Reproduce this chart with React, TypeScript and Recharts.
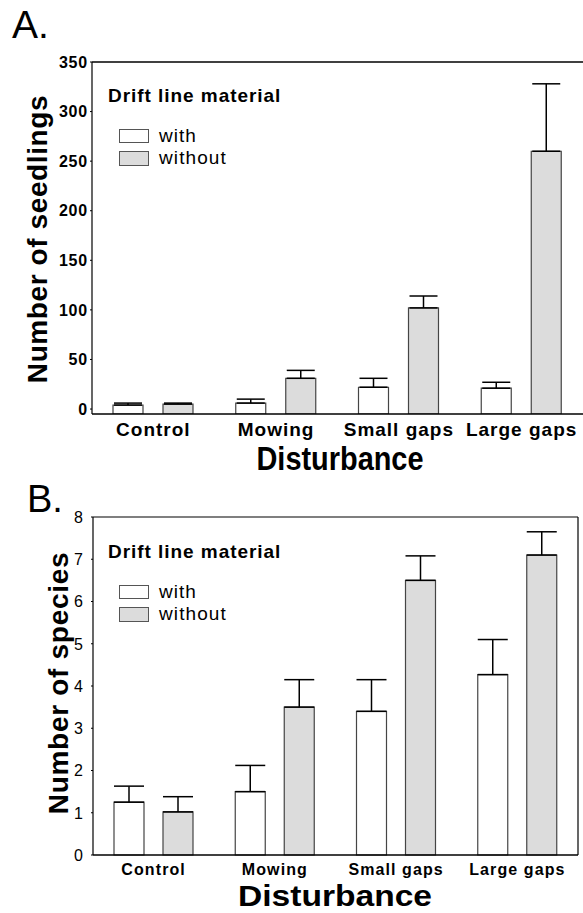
import { Bar, BarChart, ErrorBar, XAxis, YAxis } from "recharts";

const categories = ["Control", "Mowing", "Small gaps", "Large gaps"];

// A. number of seedlings
const seedlingsWith = [4, 6, 22, 21];
const seedlingsWithErr = [2, 4, 9, 6];
const seedlingsWithout = [5, 31, 102, 260];
const seedlingsWithoutErr = [1, 8, 12, 68];
const seedlingTicks = [0, 50, 100, 150, 200, 250, 300, 350];

// B. number of species
const speciesWith = [1.25, 1.5, 3.4, 4.27];
const speciesWithErr = [0.38, 0.62, 0.75, 0.83];
const speciesWithout = [1.02, 3.5, 6.5, 7.1];
const speciesWithoutErr = [0.36, 0.65, 0.58, 0.55];
const speciesTicks = [0, 1, 2, 3, 4, 5, 6, 7, 8];

const FONT = "'Liberation Sans', Arial, Helvetica, sans-serif";
const FILL_WITH = "#ffffff";
const FILL_WITHOUT = "#dcdcdc";
const BAR_STROKE = "#454545";
// seedlings axis starts a little under zero, bars sit on the axis line
const SEEDLING_BASE = -5;

// error bars only go up
const buildRows = (w: number[], we: number[], wo: number[], woe: number[]) =>
  categories.map((cat, i) => ({
    cat,
    with: w[i],
    without: wo[i],
    withErr: [0, we[i]],
    withoutErr: [0, woe[i]],
  }));

const seedlingRows = buildRows(seedlingsWith, seedlingsWithErr, seedlingsWithout, seedlingsWithoutErr);
const speciesRows = buildRows(speciesWith, speciesWithErr, speciesWithout, speciesWithoutErr);

function catTick(size: number, spacing: number, dy: number) {
  return (props: any) => (
    <text
      x={props.x}
      y={props.y + dy}
      textAnchor="middle"
      fontFamily={FONT}
      fontWeight="bold"
      fontSize={size}
      letterSpacing={spacing}
      fill="#000"
    >
      {props.payload.value}
    </text>
  );
}

function numTick(size: number, bold: boolean, spacing: number) {
  return (props: any) => (
    <text
      x={props.x}
      y={props.y}
      dy="0.36em"
      textAnchor="end"
      fontFamily={FONT}
      fontWeight={bold ? "bold" : "normal"}
      fontSize={size}
      letterSpacing={spacing}
      fill="#000"
    >
      {props.payload.value}
    </text>
  );
}

function Legend({ top }: { top: number }) {
  return (
    <g fontFamily={FONT} fill="#000">
      <text x={108} y={top} fontSize={19} fontWeight="bold" letterSpacing={0.95}>
        Drift line material
      </text>
      <rect x={119.5} y={top + 27.5} width={29} height={13} fill={FILL_WITH} stroke="#555" />
      <text x={159} y={top + 40} fontSize={19} letterSpacing={1}>with</text>
      <rect x={119.5} y={top + 49.5} width={29} height={14} fill={FILL_WITHOUT} stroke="#555" />
      <text x={159} y={top + 62} fontSize={19} letterSpacing={1.1}>without</text>
    </g>
  );
}

export default function App() {
  return (
    <div style={{ position: "absolute", left: 0, top: 0, width: 583, height: 913, background: "#fff" }}>
      <div style={{ position: "absolute", left: 0, top: 0 }}>
        <BarChart
          width={583}
          height={470}
          data={seedlingRows}
          margin={{ top: 62, right: 0, bottom: 26, left: 32 }}
          barSize={30}
          barGap={20}
        >
          <XAxis
            dataKey="cat"
            height={30}
            interval={0}
            tickLine={false}
            tickSize={0}
            tickMargin={0}
            axisLine={{ stroke: "#000", strokeWidth: 1.6 }}
            tick={catTick(19, 1, 22)}
          />
          <XAxis xAxisId="top" dataKey="cat" orientation="top" mirror interval={0} tick={false} tickSize={3}
            tickLine={{ stroke: "#000" }} axisLine={{ stroke: "#000", strokeWidth: 1.4 }} />
          <XAxis xAxisId="inner" dataKey="cat" orientation="bottom" mirror interval={0} tick={false} tickSize={3}
            tickLine={{ stroke: "#000" }} axisLine={false} />
          <YAxis
            type="number"
            domain={[SEEDLING_BASE, 350]}
            allowDataOverflow
            ticks={seedlingTicks}
            interval={0}
            width={60}
            tickSize={2}
            tickMargin={2}
            axisLine={{ stroke: "#000", strokeWidth: 1.2 }}
            tickLine={{ stroke: "#000" }}
            tick={numTick(16, true, 0.8)}
          />
          <Bar dataKey={(d: any) => [SEEDLING_BASE, d.with]} fill={FILL_WITH} stroke={BAR_STROKE} strokeWidth={1.2} isAnimationActive={false}>
            <ErrorBar dataKey="withErr" width={14} stroke="#000" strokeWidth={1.5} isAnimationActive={false} />
          </Bar>
          <Bar dataKey={(d: any) => [SEEDLING_BASE, d.without]} fill={FILL_WITHOUT} stroke={BAR_STROKE} strokeWidth={1.2} isAnimationActive={false}>
            <ErrorBar dataKey="withoutErr" width={14} stroke="#000" strokeWidth={1.5} isAnimationActive={false} />
          </Bar>
        </BarChart>
      </div>

      <div style={{ position: "absolute", left: 0, top: 470 }}>
        <BarChart
          width={583}
          height={443}
          data={speciesRows}
          margin={{ top: 47, right: 5, bottom: 28, left: 33 }}
          barSize={30}
          barGap={19}
        >
          <XAxis
            dataKey="cat"
            height={30}
            interval={0}
            tickLine={false}
            tickSize={0}
            tickMargin={0}
            axisLine={{ stroke: "#000", strokeWidth: 1.6 }}
            tick={catTick(16, 1.1, 20)}
          />
          <XAxis xAxisId="top" dataKey="cat" orientation="top" mirror interval={0} tick={false} tickSize={3}
            tickLine={{ stroke: "#000" }} axisLine={{ stroke: "#000", strokeWidth: 1.2 }} />
          <XAxis xAxisId="inner" dataKey="cat" orientation="bottom" mirror interval={0} tick={false} tickSize={3}
            tickLine={{ stroke: "#000" }} axisLine={false} />
          <YAxis
            type="number"
            domain={[0, 8]}
            ticks={speciesTicks}
            interval={0}
            width={60}
            tickSize={2}
            tickMargin={8}
            axisLine={{ stroke: "#000", strokeWidth: 1.2 }}
            tickLine={{ stroke: "#000" }}
            tick={numTick(16, false, 0)}
          />
          <YAxis yAxisId="right" type="number" orientation="right" mirror domain={[0, 8]} ticks={speciesTicks}
            interval={0} tick={false} tickSize={3} tickLine={{ stroke: "#000" }} axisLine={{ stroke: "#000", strokeWidth: 1.2 }} />
          <Bar dataKey="with" fill={FILL_WITH} stroke={BAR_STROKE} strokeWidth={1.2} isAnimationActive={false}>
            <ErrorBar dataKey="withErr" width={15} stroke="#000" strokeWidth={1.5} isAnimationActive={false} />
          </Bar>
          <Bar dataKey="without" fill={FILL_WITHOUT} stroke={BAR_STROKE} strokeWidth={1.2} isAnimationActive={false}>
            <ErrorBar dataKey="withoutErr" width={15} stroke="#000" strokeWidth={1.5} isAnimationActive={false} />
          </Bar>
        </BarChart>
      </div>

      <svg width={583} height={913} style={{ position: "absolute", left: 0, top: 0, pointerEvents: "none" }}>
        <g fontFamily={FONT} fill="#000">
          <text x={12} y={38} fontSize={39}>A.</text>
          <text x={27} y={512} fontSize={38}>B.</text>
          <text x={47} y={239} fontSize={28} fontWeight="bold" letterSpacing={0.6} textAnchor="middle" transform="rotate(-90 47 239)">
            Number of seedlings
          </text>
          <text x={68} y={683} fontSize={28} fontWeight="bold" letterSpacing={0.7} textAnchor="middle" transform="rotate(-90 68 683)">
            Number of species
          </text>
          <text x={340} y={470} fontSize={33} fontWeight="bold" textAnchor="middle" textLength={167} lengthAdjust="spacingAndGlyphs">
            Disturbance
          </text>
          <text x={335} y={906} fontSize={30} fontWeight="bold" textAnchor="middle" textLength={194} lengthAdjust="spacingAndGlyphs">
            Disturbance
          </text>
        </g>
        <Legend top={102} />
        <Legend top={558} />
      </svg>
    </div>
  );
}
